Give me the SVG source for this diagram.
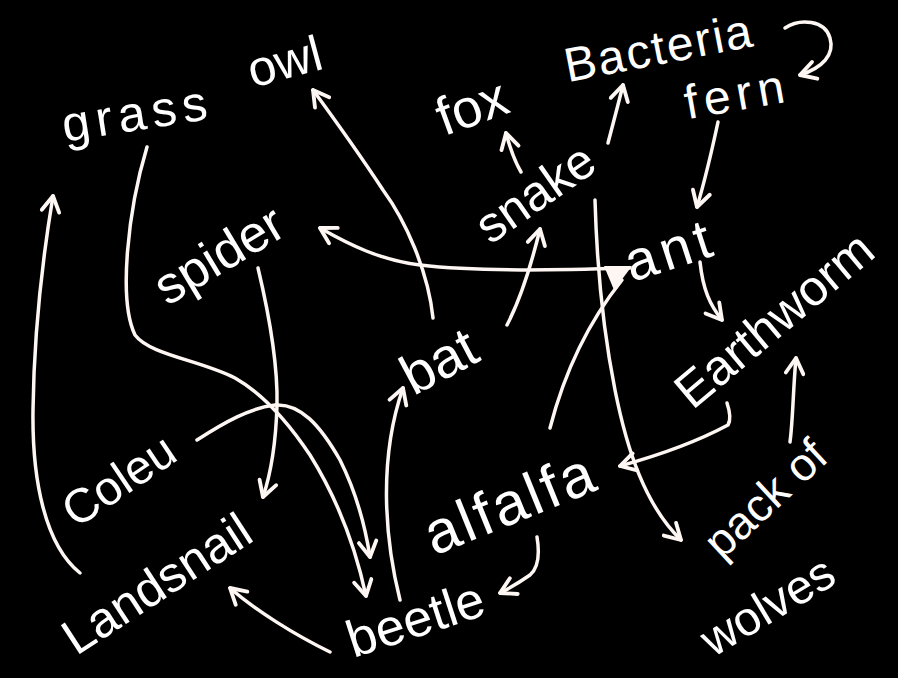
<svg xmlns="http://www.w3.org/2000/svg" width="898" height="678" viewBox="0 0 898 678">
<defs>
<style>
.lbl{fill:#fff;font-family:"Liberation Sans","DejaVu Sans",sans-serif;text-anchor:middle}
.c{fill:none;stroke:#fdf6f2;stroke-width:3.5;stroke-linecap:round;stroke-linejoin:round;marker-end:url(#ah)}
</style>
<marker id="ah" viewBox="0 0 20 20" refX="17" refY="10" markerWidth="22" markerHeight="22" markerUnits="userSpaceOnUse" orient="auto">
<path d="M3,2 L17,10 L3,18" fill="none" stroke="#fdf6f2" stroke-width="3.5" stroke-linecap="round" stroke-linejoin="round"/>
</marker>
</defs>
<rect width="898" height="678" fill="#000"/>
<g id="connectors">
<path class="c" d="M80,573 C45,545 32,480 33,410 C34,330 44,250 53,196"/>
<path class="c" d="M147,147 C128,210 118,300 135,335 C150,355 200,360 235,378 C265,395 290,425 310,455 C335,495 355,545 366,596"/>
<path class="c" d="M197,440 C225,422 250,408 275,405 C300,403 320,425 340,460 C355,490 365,525 370,557"/>
<path class="c" d="M258,268 C268,310 278,360 277,405 C276,440 272,470 263,497"/>
<path class="c" d="M330,652 C295,635 255,610 230,588"/>
<path class="c" d="M400,600 C385,540 378,460 403,388"/>
<path class="c" d="M433,318 C428,270 405,220 383,190 C360,155 335,120 313,90"/>
<path class="c" d="M507,325 C520,300 530,270 540,229"/>
<path class="c" d="M630,268 C560,270 480,272 420,265 C380,260 350,245 320,228"/>
<path class="c" d="M550,428 C565,370 590,320 622,280" style="marker-end:none"/>
<polygon points="604,266 632,266 614,290" fill="#fdf6f2"/>
<path class="c" d="M595,200 C597,270 603,330 615,390 C627,450 645,505 681,540"/>
<path class="c" d="M718,122 C712,150 705,180 697,207"/>
<path class="c" d="M700,262 C703,290 710,305 722,320"/>
<path class="c" d="M727,403 C730,412 731,420 728,425 C700,440 660,455 620,466"/>
<path class="c" d="M790,442 C793,420 793,390 796,358"/>
<path class="c" d="M537,537 C540,555 538,568 530,575 C520,582 510,588 500,593"/>
<path class="c" d="M608,143 C614,120 618,105 623,85"/>
<path class="c" d="M521,172 C514,160 510,148 506,133"/>
<path class="c" d="M785,28 C800,18 825,20 830,38 C835,55 822,68 800,75"/>
</g>
<g id="grass"><text class="lbl" x="140" y="130" font-size="50" letter-spacing="6" transform="rotate(-9 140 130)">grass</text></g>
<g id="owl"><text class="lbl" x="289" y="78" font-size="50" transform="rotate(-15 289 78)">owl</text></g>
<g id="fox"><text class="lbl" x="478" y="124" font-size="54" transform="rotate(-20 478 124)">fox</text></g>
<g id="bacteria"><text class="lbl" x="662" y="64" font-size="48" letter-spacing="2" transform="rotate(-11 662 64)">Bacteria</text></g>
<g id="fern"><text class="lbl" x="740" y="110" font-size="48" letter-spacing="6" transform="rotate(-10 740 110)">fern</text></g>
<g id="snake"><text class="lbl" x="545" y="207" font-size="50" transform="rotate(-35 545 207)">snake</text></g>
<g id="spider"><text class="lbl" x="228" y="270" font-size="52" transform="rotate(-31 228 270)">spider</text></g>
<g id="ant"><text class="lbl" x="676" y="268" font-size="56" letter-spacing="5" transform="rotate(-18 676 268)">ant</text></g>
<g id="bat"><text class="lbl" x="448" y="378" font-size="56" transform="rotate(-28 448 378)">bat</text></g>
<g id="earthworm"><text class="lbl" x="785" y="333" font-size="50" transform="rotate(-40 785 333)">Earthworm</text></g>
<g id="coleu"><text class="lbl" x="128" y="494" font-size="48" transform="rotate(-34 128 494)">Coleu</text></g>
<g id="landsnail"><text class="lbl" x="166" y="598" font-size="50" transform="rotate(-33 166 598)">Landsnail</text></g>
<g id="alfalfa"><text class="lbl" x="518" y="522" font-size="60" letter-spacing="3" transform="rotate(-22 518 522)">alfalfa</text></g>
<g id="beetle"><text class="lbl" x="421" y="636" font-size="52" transform="rotate(-18 421 636)">beetle</text></g>
<g id="pack-of-wolves">
<text class="lbl" x="776" y="510" font-size="46" transform="rotate(-43 776 510)">pack of</text>
<text class="lbl" x="776" y="620" font-size="48" transform="rotate(-31 776 620)">wolves</text>
</g>
</svg>
